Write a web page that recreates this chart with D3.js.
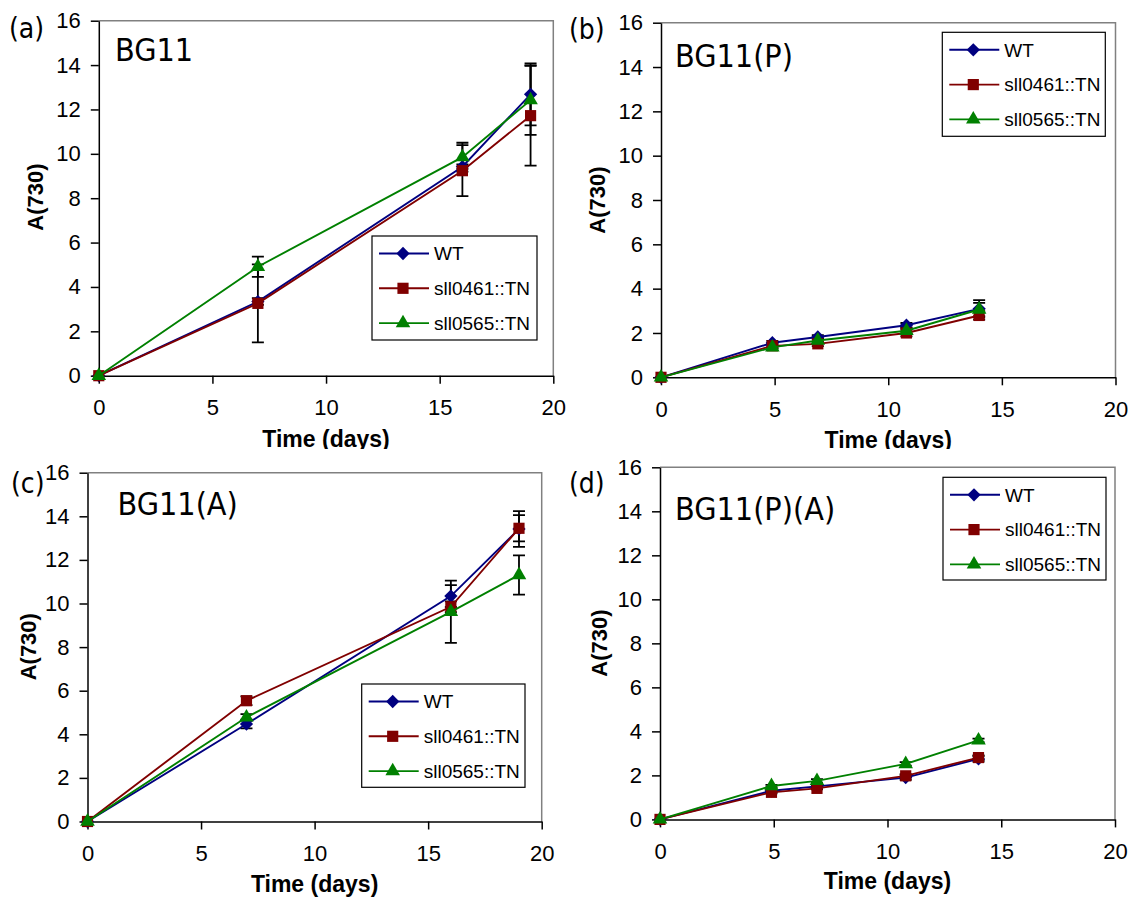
<!DOCTYPE html>
<html>
<head>
<meta charset="utf-8">
<script src="https://cdn.jsdelivr.net/npm/d3@7"></script>
<style>
  body { margin: 0; background: #fff; }
  svg { display: block; }
  .tick text { font-family: "Liberation Sans", Arial, sans-serif; font-size: 22px; fill: #000; }
  .tick line, .domain { stroke: #000; stroke-width: 1.5px; }
</style>
</head>
<body>
<svg id="chart" width="1137" height="899"></svg>
<script>
// Growth of WT and the two mutants, A(730) against time, in four media.

var seriesNames = ["WT", "sll0461::TN", "sll0565::TN"];
var seriesColors = ["#000080", "#800000", "#008000"];
var xTicks = [0, 5, 10, 15, 20];
var yTicks = [0, 2, 4, 6, 8, 10, 12, 14, 16];

var daysLong = [0, 7, 16, 19];
var daysShort = [0, 4.9, 6.9, 10.8, 14];

// (a) BG11
var bg11Wt = [0, 3.34, 9.42, 12.68];
var bg11WtErr = [0, 0.15, 0.1, 1.4];
var bg11S461 = [0, 3.26, 9.24, 11.72];
var bg11S461Err = [0, 1.76, 1.15, 2.25];
var bg11S565 = [0, 4.91, 9.85, 12.42];
var bg11S565Err = [0, 0.46, 0.65, 1.57];

// (b) BG11(P)
var bg11pWt = [0, 1.56, 1.82, 2.35, 3.09];
var bg11pWtErr = [0, 0.08, 0.08, 0.1, 0.39];
var bg11pS461 = [0, 1.42, 1.51, 2.0, 2.79];
var bg11pS461Err = [0, 0.1, 0.1, 0.15, 0.19];
var bg11pS565 = [0, 1.35, 1.66, 2.1, 3.06];
var bg11pS565Err = [0, 0.05, 0.1, 0.12, 0.3];

// (c) BG11(A)
var bg11aWt = [0, 4.47, 10.34, 13.42];
var bg11aWtErr = [0, 0.2, 0.5, 0.82];
var bg11aS461 = [0, 5.54, 9.85, 13.45];
var bg11aS461Err = [0, 0.2, 0.25, 0.6];
var bg11aS565 = [0, 4.78, 9.62, 11.31];
var bg11aS565Err = [0, 0.15, 1.43, 0.9];

// (d) BG11(P)(A)
var bg11paWt = [0, 1.3, 1.5, 1.9, 2.75];
var bg11paWtErr = [0, 0.05, 0.05, 0.1, 0.12];
var bg11paS461 = [0, 1.23, 1.41, 1.98, 2.81];
var bg11paS461Err = [0, 0.05, 0.05, 0.08, 0.1];
var bg11paS565 = [0, 1.52, 1.75, 2.52, 3.59];
var bg11paS565Err = [0, 0.05, 0.08, 0.08, 0.08];

// where each panel sits on the page
var panels = [
  { letter: "(a)", title: "BG11", days: daysLong,
    values: [bg11Wt, bg11S461, bg11S565], errs: [bg11WtErr, bg11S461Err, bg11S565Err],
    left: 98.8, right: 553.3, top: 20.7, bottom: 375.7, clip: true,
    legend: { x: 372, y: 236, w: 165, h: 104 },
    letterX: 9, letterY: 38, titleX: 115, titleY: 61,
    yTitleX: 35.5, yTitleY: 197, xTitleY: 446.5 },
  { letter: "(b)", title: "BG11(P)", days: daysShort,
    values: [bg11pWt, bg11pS461, bg11pS565], errs: [bg11pWtErr, bg11pS461Err, bg11pS565Err],
    left: 661, right: 1115.5, top: 22.7, bottom: 377.3, clip: true,
    legend: { x: 942.3, y: 32.3, w: 163, h: 104 },
    letterX: 569, letterY: 39, titleX: 675, titleY: 66.7,
    yTitleX: 597.4, yTitleY: 200, xTitleY: 447.5 },
  { letter: "(c)", title: "BG11(A)", days: daysLong,
    values: [bg11aWt, bg11aS461, bg11aS565], errs: [bg11aWtErr, bg11aS461Err, bg11aS565Err],
    left: 87.5, right: 541.7, top: 472.7, bottom: 821.5, clip: false,
    legend: { x: 361.7, y: 684, w: 163.3, h: 103.3 },
    letterX: 11, letterY: 493, titleX: 117.5, titleY: 515,
    yTitleX: 28, yTitleY: 646.7, xTitleY: 892 },
  { letter: "(d)", title: "BG11(P)(A)", days: daysShort,
    values: [bg11paWt, bg11paS461, bg11paS565], errs: [bg11paWtErr, bg11paS461Err, bg11paS565Err],
    left: 660, right: 1115, top: 467.3, bottom: 819.4, clip: false,
    legend: { x: 943, y: 477.3, w: 163, h: 102.7 },
    letterX: 569, letterY: 493, titleX: 675, titleY: 520,
    yTitleX: 599, yTitleY: 643, xTitleY: 889.3 }
];

var svg = d3.select("#chart");

// top row was cut off at the bottom in the original figure
svg.append("defs").append("clipPath")
    .attr("id", "topRow")
  .append("rect")
    .attr("x", 0).attr("y", 0)
    .attr("width", 1137).attr("height", 449);

// marker shapes, Excel style: diamond, square, triangle
function markerPath(i) {
  if (i == 0) return d3.symbol().type(d3.symbolSquare).size(88)();
  if (i == 1) return d3.symbol().type(d3.symbolSquare).size(125)();
  return d3.symbol().type(d3.symbolTriangle).size(92)();
}
function markerRotate(i) {
  return i == 0 ? " rotate(45)" : "";
}

function drawPanel(p) {
  var g = svg.append("g");
  if (p.clip) g.attr("clip-path", "url(#topRow)");

  var x = d3.scaleLinear().domain([0, 20]).range([p.left, p.right]);
  var y = d3.scaleLinear().domain([0, 16]).range([p.bottom, p.top]);

  // grey frame on top and right
  g.append("path")
    .attr("d", "M" + x(0) + "," + y(16) + "H" + x(20) + "V" + y(0))
    .attr("fill", "none")
    .attr("stroke", "#808080")
    .attr("stroke-width", 1.5);

  g.append("g")
    .attr("transform", "translate(0," + y(0) + ")")
    .call(d3.axisBottom(x).tickValues(xTicks).tickSize(8).tickPadding(16).tickSizeOuter(0));

  g.append("g")
    .attr("transform", "translate(" + x(0) + ",0)")
    .call(d3.axisLeft(y).tickValues(yTicks).tickSize(8).tickPadding(10).tickSizeOuter(0));

  // error bars go under the lines and markers
  p.values.forEach(function(vals, s) {
    var errs = p.errs[s];
    var eb = g.append("g")
      .attr("stroke", "#000")
      .attr("stroke-width", 1.8)
      .attr("fill", "none");
    p.days.forEach(function(d, i) {
      if (!errs[i]) return;
      var cx = x(d), hi = y(vals[i] + errs[i]), lo = y(vals[i] - errs[i]);
      eb.append("path")
        .attr("d", "M" + cx + "," + hi + "V" + lo +
                   "M" + (cx - 6) + "," + hi + "H" + (cx + 6) +
                   "M" + (cx - 6) + "," + lo + "H" + (cx + 6));
    });
  });

  var line = d3.line()
    .x(function(d) { return x(d[0]); })
    .y(function(d) { return y(d[1]); });

  p.values.forEach(function(vals, s) {
    var pts = p.days.map(function(d, i) { return [d, vals[i]]; });
    g.append("path")
      .datum(pts)
      .attr("d", line)
      .attr("fill", "none")
      .attr("stroke", seriesColors[s])
      .attr("stroke-width", 1.9);

    g.selectAll("path.m" + s)
      .data(pts)
      .enter().append("path")
      .attr("class", "m" + s)
      .attr("d", markerPath(s))
      .attr("fill", seriesColors[s])
      .attr("transform", function(d) {
        return "translate(" + x(d[0]) + "," + y(d[1]) + ")" + markerRotate(s);
      });
  });

  // legend box
  var lg = g.append("g").attr("transform", "translate(" + p.legend.x + "," + p.legend.y + ")");
  lg.append("rect")
    .attr("width", p.legend.w)
    .attr("height", p.legend.h)
    .attr("fill", "#fff")
    .attr("stroke", "#000")
    .attr("stroke-width", 1.2);
  seriesNames.forEach(function(name, s) {
    var ly = 17.5 + s * 34.8;
    lg.append("line")
      .attr("x1", 7).attr("x2", 57)
      .attr("y1", ly).attr("y2", ly)
      .attr("stroke", seriesColors[s])
      .attr("stroke-width", 1.9);
    lg.append("path")
      .attr("d", markerPath(s))
      .attr("fill", seriesColors[s])
      .attr("transform", "translate(31," + ly + ")" + markerRotate(s));
    lg.append("text")
      .attr("x", 62)
      .attr("y", ly)
      .attr("dy", "0.36em")
      .style("font-family", "'Liberation Sans', Arial, sans-serif")
      .style("font-size", "19px")
      .text(name);
  });

  // panel letter and medium name
  g.append("text")
    .attr("x", p.letterX)
    .attr("y", p.letterY)
    .style("font-family", "'DejaVu Sans Condensed', 'DejaVu Sans', sans-serif")
    .style("font-stretch", "condensed")
    .style("font-size", "28px")
    .text(p.letter);
  g.append("text")
    .attr("x", p.titleX)
    .attr("y", p.titleY)
    .style("font-family", "'DejaVu Sans Condensed', 'DejaVu Sans', sans-serif")
    .style("font-stretch", "condensed")
    .style("font-size", "32px")
    .text(p.title);

  // axis titles
  g.append("text")
    .attr("x", (p.left + p.right) / 2)
    .attr("y", p.xTitleY)
    .attr("text-anchor", "middle")
    .style("font-family", "'Liberation Sans', Arial, sans-serif")
    .style("font-weight", "bold")
    .style("font-size", "23px")
    .text("Time (days)");
  g.append("text")
    .attr("transform", "translate(" + p.yTitleX + "," + p.yTitleY + ") rotate(-90)")
    .attr("text-anchor", "middle")
    .attr("dy", "0.36em")
    .style("font-family", "'Liberation Sans', Arial, sans-serif")
    .style("font-weight", "bold")
    .style("font-size", "22px")
    .text("A(730)");
}

panels.forEach(drawPanel);
</script>
</body>
</html>
